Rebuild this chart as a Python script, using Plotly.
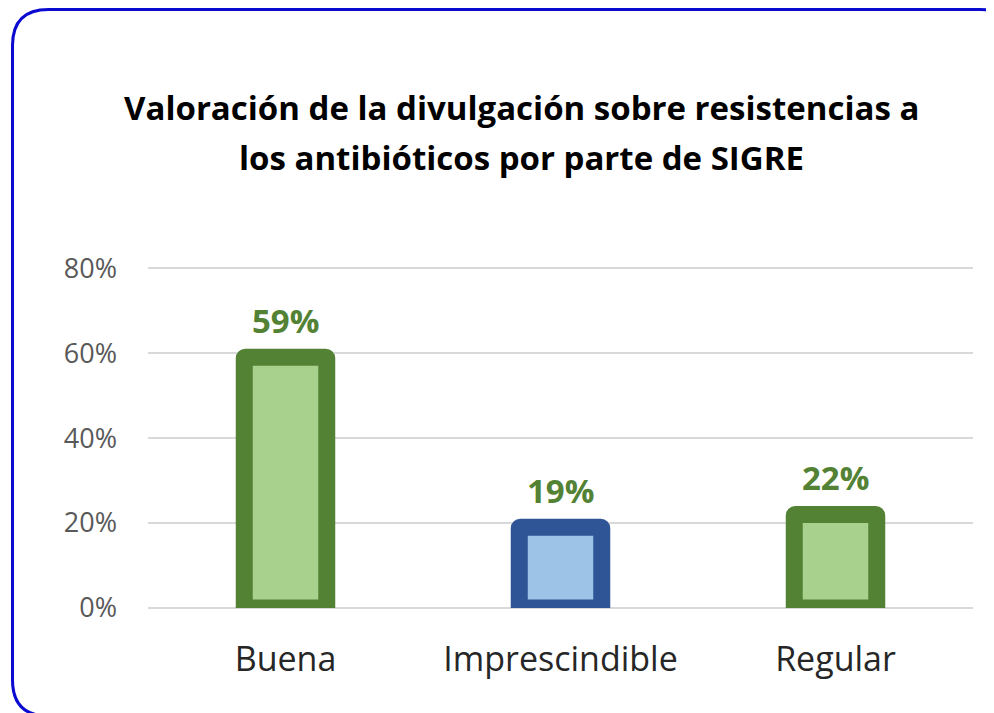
import plotly.graph_objects as go

categories = ["Buena", "Imprescindible", "Regular"]
values = [0.59, 0.19, 0.22]
value_labels = ["59%", "19%", "22%"]
fill_colors = ["#A9D18E", "#9DC3E6", "#A9D18E"]
line_colors = ["#548235", "#2F5597", "#548235"]
y_ticks = [0, 0.2, 0.4, 0.6, 0.8]
y_tick_labels = ["0%", "20%", "40%", "60%", "80%"]
title_lines = ["Valoración de la divulgación sobre resistencias a",
               "los antibióticos por parte de SIGRE"]

OFF = 8  # default page body margin
W, H = 994 - OFF, 713 - OFF
PL, PR, PB = 148, 973, 608          # page-pixel plot edges
YMAX = 0.805
PT = PB - YMAX / 0.8 * 340
L = PL - OFF
R = W - (PR - OFF)
B = H - (PB - OFF)
T = round(PT - OFF)
pw = W - L - R
ph = H - T - B

def px(x):
    return (x - PL) / pw

def py(y):
    return (PB - y) / ph

fig = go.Figure()
fig.add_trace(go.Bar(
    x=categories, y=values,
    marker=dict(color=fill_colors, line=dict(color=line_colors, width=17), cornerradius=1),
    hoverinfo="skip",
))

annotations = []
for c, v, t in zip(categories, values, value_labels):
    annotations.append(dict(x=c, y=v, xref="x", yref="y", text=t, showarrow=False,
                            yanchor="middle", yshift=37,
                            font=dict(family="Open Sans", size=33, color="#548235", weight="bold")))
for i, line in enumerate(title_lines):
    annotations.append(dict(x=px(521), y=py(107 + 50 * i), xref="paper", yref="paper",
                            text=f"<b>{line}</b>", showarrow=False,
                            xanchor="center", yanchor="middle",
                            font=dict(family="Open Sans", size=33, color="#000000")))

# rounded border
x0, x1 = px(12.5), px(1016)
y0, y1 = py(716), py(9.5)
rx, ry = 36 / pw, 36 / ph
path = (f"M {x0+rx},{y1} L {x1-rx},{y1} Q {x1},{y1} {x1},{y1-ry} "
        f"L {x1},{y0+ry} Q {x1},{y0} {x1-rx},{y0} L {x0+rx},{y0} "
        f"Q {x0},{y0} {x0},{y0+ry} L {x0},{y1-ry} Q {x0},{y1} {x0+rx},{y1} Z")

fig.update_layout(
    width=W, height=H,
    margin=dict(l=L, r=R, t=T, b=B),
    paper_bgcolor="white", plot_bgcolor="white",
    showlegend=False,
    bargap=0.7,
    annotations=annotations,
    shapes=[dict(type="path", path=path, xref="paper", yref="paper",
                 line=dict(color="#0A0AD0", width=3), layer="above")],
    xaxis=dict(showline=False, showgrid=False, ticks="", ticklabelstandoff=28,
               tickfont=dict(family="Open Sans", size=34, color="#262626")),
    yaxis=dict(range=[0, YMAX], tickvals=y_ticks, ticktext=y_tick_labels,
               showgrid=True, gridcolor="#D9D9D9", gridwidth=2,
               zeroline=True, zerolinecolor="#D9D9D9", zerolinewidth=2,
               showline=False, ticks="", ticklabelstandoff=30,
               tickfont=dict(family="Open Sans", size=27, color="#595959")),
)

fig.write_html("out.html")
